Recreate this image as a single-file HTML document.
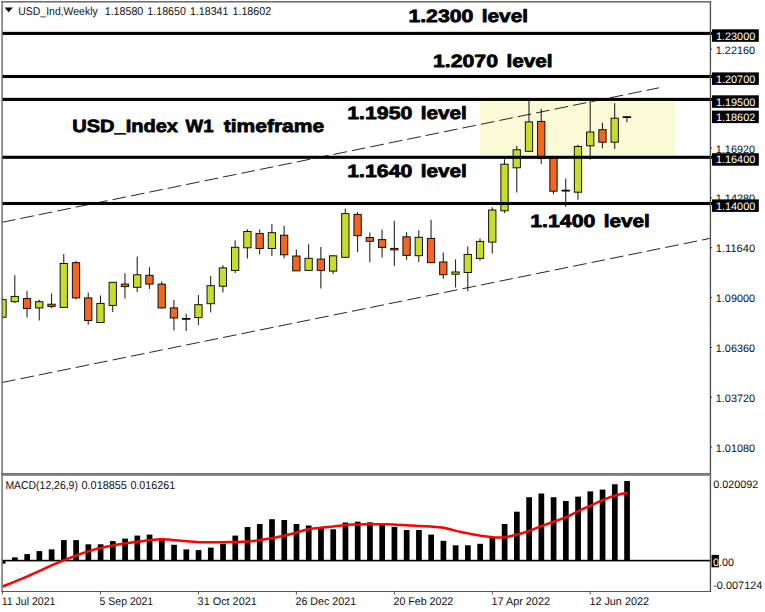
<!DOCTYPE html>
<html><head><meta charset="utf-8"><title>USD_Ind Weekly</title>
<style>html,body{margin:0;padding:0;background:#fff;width:765px;height:612px;overflow:hidden;font-family:"Liberation Sans",sans-serif}</style>
</head><body>
<svg width="765" height="612" viewBox="0 0 765 612" style="position:absolute;left:0;top:0" font-family="Liberation Sans, sans-serif" text-rendering="geometricPrecision">
<rect x="0" y="0" width="765" height="612" fill="#fff"/>
<rect x="479.7" y="100" width="195.6" height="55.3" fill="#fafad7"/>
<clipPath id="cc"><rect x="2.2" y="2" width="708" height="471"/></clipPath><g clip-path="url(#cc)">
<line x1="2.54" y1="297" x2="2.54" y2="319" stroke="#000" stroke-width="1.1" stroke-opacity="0.85"/>
<rect x="-1.11" y="299.6" width="7.3" height="17.6" fill="#c6dd2c" stroke="#0a0a00" stroke-width="0.95"/>
<line x1="14.78" y1="275.3" x2="14.78" y2="302.9" stroke="#000" stroke-width="1.1" stroke-opacity="0.85"/>
<rect x="11.13" y="296.4" width="7.3" height="5.3" fill="#c6dd2c" stroke="#0a0a00" stroke-width="0.95"/>
<line x1="27.03" y1="290.9" x2="27.03" y2="317.5" stroke="#000" stroke-width="1.1" stroke-opacity="0.85"/>
<rect x="23.38" y="298.6" width="7.3" height="9.8" fill="#f26522" stroke="#0a0a00" stroke-width="0.95"/>
<line x1="39.27" y1="299.9" x2="39.27" y2="320.5" stroke="#000" stroke-width="1.1" stroke-opacity="0.85"/>
<rect x="35.62" y="301.7" width="7.3" height="6.2" fill="#c6dd2c" stroke="#0a0a00" stroke-width="0.95"/>
<line x1="51.51" y1="293.4" x2="51.51" y2="307.9" stroke="#000" stroke-width="1.1" stroke-opacity="0.85"/>
<rect x="47.86" y="304.2" width="7.3" height="2.2" fill="#f26522" stroke="#0a0a00" stroke-width="0.95"/>
<line x1="63.76" y1="254" x2="63.76" y2="307.4" stroke="#000" stroke-width="1.1" stroke-opacity="0.85"/>
<rect x="60.11" y="263.5" width="7.3" height="43.9" fill="#c6dd2c" stroke="#0a0a00" stroke-width="0.95"/>
<line x1="76.00" y1="261" x2="76.00" y2="299.6" stroke="#000" stroke-width="1.1" stroke-opacity="0.85"/>
<rect x="72.35" y="262.7" width="7.3" height="35.2" fill="#f26522" stroke="#0a0a00" stroke-width="0.95"/>
<line x1="88.24" y1="292.4" x2="88.24" y2="324.7" stroke="#000" stroke-width="1.1" stroke-opacity="0.85"/>
<rect x="84.59" y="297.9" width="7.3" height="22.6" fill="#f26522" stroke="#0a0a00" stroke-width="0.95"/>
<line x1="100.48" y1="295.4" x2="100.48" y2="323" stroke="#000" stroke-width="1.1" stroke-opacity="0.85"/>
<rect x="96.83" y="303.4" width="7.3" height="19.1" fill="#c6dd2c" stroke="#0a0a00" stroke-width="0.95"/>
<line x1="112.73" y1="282.3" x2="112.73" y2="312" stroke="#000" stroke-width="1.1" stroke-opacity="0.85"/>
<rect x="109.08" y="282.3" width="7.3" height="23.1" fill="#c6dd2c" stroke="#0a0a00" stroke-width="0.95"/>
<line x1="124.97" y1="273.3" x2="124.97" y2="298.4" stroke="#000" stroke-width="1.1" stroke-opacity="0.85"/>
<rect x="121.32" y="284.1" width="7.3" height="2.5" fill="#f26522" stroke="#0a0a00" stroke-width="0.95"/>
<line x1="137.21" y1="256.5" x2="137.21" y2="292.1" stroke="#000" stroke-width="1.1" stroke-opacity="0.85"/>
<rect x="133.56" y="274.8" width="7.3" height="12.5" fill="#c6dd2c" stroke="#0a0a00" stroke-width="0.95"/>
<line x1="149.46" y1="267.3" x2="149.46" y2="289.1" stroke="#000" stroke-width="1.1" stroke-opacity="0.85"/>
<rect x="145.81" y="275.3" width="7.3" height="8.8" fill="#f26522" stroke="#0a0a00" stroke-width="0.95"/>
<line x1="161.70" y1="281.6" x2="161.70" y2="308.4" stroke="#000" stroke-width="1.1" stroke-opacity="0.85"/>
<rect x="158.05" y="284.1" width="7.3" height="23.8" fill="#f26522" stroke="#0a0a00" stroke-width="0.95"/>
<line x1="173.94" y1="299.9" x2="173.94" y2="330.5" stroke="#000" stroke-width="1.1" stroke-opacity="0.85"/>
<rect x="170.29" y="307.9" width="7.3" height="10.1" fill="#f26522" stroke="#0a0a00" stroke-width="0.95"/>
<line x1="186.19" y1="313.8" x2="186.19" y2="331" stroke="#000" stroke-width="1.1" stroke-opacity="0.85"/>
<line x1="181.99" y1="318.8" x2="190.38" y2="318.8" stroke="#000" stroke-width="1.7"/>
<line x1="198.43" y1="295" x2="198.43" y2="325.1" stroke="#000" stroke-width="1.1" stroke-opacity="0.85"/>
<rect x="194.78" y="304.7" width="7.3" height="12.9" fill="#c6dd2c" stroke="#0a0a00" stroke-width="0.95"/>
<line x1="210.67" y1="276.1" x2="210.67" y2="312.5" stroke="#000" stroke-width="1.1" stroke-opacity="0.85"/>
<rect x="207.02" y="285.7" width="7.3" height="18.0" fill="#c6dd2c" stroke="#0a0a00" stroke-width="0.95"/>
<line x1="222.91" y1="265.3" x2="222.91" y2="292.4" stroke="#000" stroke-width="1.1" stroke-opacity="0.85"/>
<rect x="219.26" y="267.9" width="7.3" height="18.3" fill="#c6dd2c" stroke="#0a0a00" stroke-width="0.95"/>
<line x1="235.16" y1="240.2" x2="235.16" y2="272.9" stroke="#000" stroke-width="1.1" stroke-opacity="0.85"/>
<rect x="231.51" y="247.3" width="7.3" height="23.1" fill="#c6dd2c" stroke="#0a0a00" stroke-width="0.95"/>
<line x1="247.40" y1="229.2" x2="247.40" y2="258.6" stroke="#000" stroke-width="1.1" stroke-opacity="0.85"/>
<rect x="243.75" y="231.5" width="7.3" height="16.3" fill="#c6dd2c" stroke="#0a0a00" stroke-width="0.95"/>
<line x1="259.64" y1="229.4" x2="259.64" y2="254.5" stroke="#000" stroke-width="1.1" stroke-opacity="0.85"/>
<rect x="255.99" y="233.5" width="7.3" height="15.0" fill="#f26522" stroke="#0a0a00" stroke-width="0.95"/>
<line x1="271.89" y1="223.9" x2="271.89" y2="256" stroke="#000" stroke-width="1.1" stroke-opacity="0.85"/>
<rect x="268.24" y="232.7" width="7.3" height="15.8" fill="#c6dd2c" stroke="#0a0a00" stroke-width="0.95"/>
<line x1="284.13" y1="225.7" x2="284.13" y2="258.3" stroke="#000" stroke-width="1.1" stroke-opacity="0.85"/>
<rect x="280.48" y="235.2" width="7.3" height="19.6" fill="#f26522" stroke="#0a0a00" stroke-width="0.95"/>
<line x1="296.37" y1="249.5" x2="296.37" y2="270.9" stroke="#000" stroke-width="1.1" stroke-opacity="0.85"/>
<rect x="292.72" y="256" width="7.3" height="14.9" fill="#f26522" stroke="#0a0a00" stroke-width="0.95"/>
<line x1="308.62" y1="244.3" x2="308.62" y2="270.9" stroke="#000" stroke-width="1.1" stroke-opacity="0.85"/>
<rect x="304.97" y="258.3" width="7.3" height="12.1" fill="#c6dd2c" stroke="#0a0a00" stroke-width="0.95"/>
<line x1="320.86" y1="247" x2="320.86" y2="288.4" stroke="#000" stroke-width="1.1" stroke-opacity="0.85"/>
<rect x="317.21" y="259.1" width="7.3" height="11.3" fill="#f26522" stroke="#0a0a00" stroke-width="0.95"/>
<line x1="333.10" y1="255.3" x2="333.10" y2="274.1" stroke="#000" stroke-width="1.1" stroke-opacity="0.85"/>
<rect x="329.45" y="255.8" width="7.3" height="15.3" fill="#c6dd2c" stroke="#0a0a00" stroke-width="0.95"/>
<line x1="345.34" y1="208.4" x2="345.34" y2="258.3" stroke="#000" stroke-width="1.1" stroke-opacity="0.85"/>
<rect x="341.69" y="213.6" width="7.3" height="43.7" fill="#c6dd2c" stroke="#0a0a00" stroke-width="0.95"/>
<line x1="357.59" y1="212.1" x2="357.59" y2="252.3" stroke="#000" stroke-width="1.1" stroke-opacity="0.85"/>
<rect x="353.94" y="214.4" width="7.3" height="21.3" fill="#f26522" stroke="#0a0a00" stroke-width="0.95"/>
<line x1="369.83" y1="232.5" x2="369.83" y2="262.2" stroke="#000" stroke-width="1.1" stroke-opacity="0.85"/>
<rect x="366.18" y="237.5" width="7.3" height="3.8" fill="#f26522" stroke="#0a0a00" stroke-width="0.95"/>
<line x1="382.07" y1="229.6" x2="382.07" y2="257.4" stroke="#000" stroke-width="1.1" stroke-opacity="0.85"/>
<rect x="378.42" y="239.6" width="7.3" height="7.8" fill="#f26522" stroke="#0a0a00" stroke-width="0.95"/>
<line x1="394.32" y1="220.8" x2="394.32" y2="266" stroke="#000" stroke-width="1.1" stroke-opacity="0.85"/>
<rect x="390.67" y="248.4" width="7.3" height="1.5" fill="#f26522" stroke="#0a0a00" stroke-width="0.95"/>
<line x1="406.56" y1="232.3" x2="406.56" y2="259.7" stroke="#000" stroke-width="1.1" stroke-opacity="0.85"/>
<rect x="402.91" y="236.8" width="7.3" height="18.6" fill="#f26522" stroke="#0a0a00" stroke-width="0.95"/>
<line x1="418.80" y1="230.3" x2="418.80" y2="262" stroke="#000" stroke-width="1.1" stroke-opacity="0.85"/>
<rect x="415.15" y="237.3" width="7.3" height="18.4" fill="#c6dd2c" stroke="#0a0a00" stroke-width="0.95"/>
<line x1="431.05" y1="219.8" x2="431.05" y2="263" stroke="#000" stroke-width="1.1" stroke-opacity="0.85"/>
<rect x="427.40" y="238.4" width="7.3" height="24.3" fill="#f26522" stroke="#0a0a00" stroke-width="0.95"/>
<line x1="443.29" y1="252.4" x2="443.29" y2="278.8" stroke="#000" stroke-width="1.1" stroke-opacity="0.85"/>
<rect x="439.64" y="262" width="7.3" height="12.7" fill="#f26522" stroke="#0a0a00" stroke-width="0.95"/>
<line x1="455.53" y1="259.4" x2="455.53" y2="287.5" stroke="#000" stroke-width="1.1" stroke-opacity="0.85"/>
<rect x="451.88" y="272" width="7.3" height="2.2" fill="#c6dd2c" stroke="#0a0a00" stroke-width="0.95"/>
<line x1="467.77" y1="246.4" x2="467.77" y2="291.1" stroke="#000" stroke-width="1.1" stroke-opacity="0.85"/>
<rect x="464.12" y="254.4" width="7.3" height="18.1" fill="#c6dd2c" stroke="#0a0a00" stroke-width="0.95"/>
<line x1="480.02" y1="238.4" x2="480.02" y2="260.4" stroke="#000" stroke-width="1.1" stroke-opacity="0.85"/>
<rect x="476.37" y="241.4" width="7.3" height="17.0" fill="#c6dd2c" stroke="#0a0a00" stroke-width="0.95"/>
<line x1="492.26" y1="207.2" x2="492.26" y2="253.4" stroke="#000" stroke-width="1.1" stroke-opacity="0.85"/>
<rect x="488.61" y="210" width="7.3" height="32.1" fill="#c6dd2c" stroke="#0a0a00" stroke-width="0.95"/>
<line x1="504.50" y1="159.3" x2="504.50" y2="213" stroke="#000" stroke-width="1.1" stroke-opacity="0.85"/>
<rect x="500.85" y="164.2" width="7.3" height="46.6" fill="#c6dd2c" stroke="#0a0a00" stroke-width="0.95"/>
<line x1="516.75" y1="146" x2="516.75" y2="192.4" stroke="#000" stroke-width="1.1" stroke-opacity="0.85"/>
<rect x="513.10" y="149.8" width="7.3" height="18.0" fill="#c6dd2c" stroke="#0a0a00" stroke-width="0.95"/>
<line x1="528.99" y1="100.6" x2="528.99" y2="152" stroke="#000" stroke-width="1.1" stroke-opacity="0.85"/>
<rect x="525.34" y="121.9" width="7.3" height="29.4" fill="#c6dd2c" stroke="#0a0a00" stroke-width="0.95"/>
<line x1="541.23" y1="108.9" x2="541.23" y2="164.1" stroke="#000" stroke-width="1.1" stroke-opacity="0.85"/>
<rect x="537.58" y="121.4" width="7.3" height="37.1" fill="#f26522" stroke="#0a0a00" stroke-width="0.95"/>
<line x1="553.48" y1="158.5" x2="553.48" y2="194.2" stroke="#000" stroke-width="1.1" stroke-opacity="0.85"/>
<rect x="549.83" y="158.5" width="7.3" height="32.7" fill="#f26522" stroke="#0a0a00" stroke-width="0.95"/>
<line x1="565.72" y1="178.4" x2="565.72" y2="206.8" stroke="#000" stroke-width="1.1" stroke-opacity="0.85"/>
<line x1="561.52" y1="190.7" x2="569.92" y2="190.7" stroke="#000" stroke-width="1.7"/>
<line x1="577.96" y1="144.8" x2="577.96" y2="199.7" stroke="#000" stroke-width="1.1" stroke-opacity="0.85"/>
<rect x="574.31" y="146.5" width="7.3" height="45.7" fill="#c6dd2c" stroke="#0a0a00" stroke-width="0.95"/>
<line x1="590.20" y1="100.6" x2="590.20" y2="159.6" stroke="#000" stroke-width="1.1" stroke-opacity="0.85"/>
<rect x="586.55" y="132" width="7.3" height="13.8" fill="#c6dd2c" stroke="#0a0a00" stroke-width="0.95"/>
<line x1="602.45" y1="122.7" x2="602.45" y2="148.3" stroke="#000" stroke-width="1.1" stroke-opacity="0.85"/>
<rect x="598.80" y="129.7" width="7.3" height="12.5" fill="#f26522" stroke="#0a0a00" stroke-width="0.95"/>
<line x1="614.69" y1="103.3" x2="614.69" y2="149" stroke="#000" stroke-width="1.1" stroke-opacity="0.85"/>
<rect x="611.04" y="118.2" width="7.3" height="24.0" fill="#c6dd2c" stroke="#0a0a00" stroke-width="0.95"/>
<line x1="626.93" y1="116.0" x2="626.93" y2="122.2" stroke="#000" stroke-width="1.1" stroke-opacity="0.85"/>
<line x1="622.73" y1="117.1" x2="631.13" y2="117.1" stroke="#000" stroke-width="1.7"/>
</g>
<g stroke="#000" stroke-width="1" stroke-dasharray="13.7 5.1" stroke-opacity="0.85" fill="none">
<line x1="2" y1="222.3" x2="659" y2="87.8"/>
<line x1="2" y1="382.5" x2="710" y2="238.4"/>
</g>
<rect x="2" y="31.85" width="710" height="3.1" fill="#000"/>
<rect x="2" y="74.95" width="710" height="3.1" fill="#000"/>
<rect x="2" y="97.85" width="710" height="3.1" fill="#000"/>
<rect x="2" y="155.75" width="710" height="3.1" fill="#000"/>
<rect x="2" y="201.95" width="710" height="3.1" fill="#000"/>
<rect x="2.10" y="560.6" width="3.41" height="3.1" fill="#000"/>
<rect x="12.05" y="557.4" width="5.70" height="3.2" fill="#000"/>
<rect x="24.30" y="554.1" width="5.70" height="6.5" fill="#000"/>
<rect x="36.54" y="551.1" width="5.70" height="9.5" fill="#000"/>
<rect x="48.78" y="549.4" width="5.70" height="11.2" fill="#000"/>
<rect x="61.02" y="540.1" width="5.70" height="20.5" fill="#000"/>
<rect x="73.27" y="540.1" width="5.70" height="20.5" fill="#000"/>
<rect x="85.51" y="544.3" width="5.70" height="16.3" fill="#000"/>
<rect x="97.75" y="544.3" width="5.70" height="16.3" fill="#000"/>
<rect x="110.00" y="541.1" width="5.70" height="19.5" fill="#000"/>
<rect x="122.24" y="538.6" width="5.70" height="22.0" fill="#000"/>
<rect x="134.48" y="535.6" width="5.70" height="25.0" fill="#000"/>
<rect x="146.73" y="534.6" width="5.70" height="26.0" fill="#000"/>
<rect x="158.97" y="538.8" width="5.70" height="21.8" fill="#000"/>
<rect x="171.21" y="544.8" width="5.70" height="15.8" fill="#000"/>
<rect x="183.46" y="549.4" width="5.70" height="11.2" fill="#000"/>
<rect x="195.70" y="550.1" width="5.70" height="10.5" fill="#000"/>
<rect x="207.94" y="547.6" width="5.70" height="13.0" fill="#000"/>
<rect x="220.18" y="543.8" width="5.70" height="16.8" fill="#000"/>
<rect x="232.43" y="535.6" width="5.70" height="25.0" fill="#000"/>
<rect x="244.67" y="527.0" width="5.70" height="33.6" fill="#000"/>
<rect x="256.91" y="524.0" width="5.70" height="36.6" fill="#000"/>
<rect x="269.16" y="519.2" width="5.70" height="41.4" fill="#000"/>
<rect x="281.40" y="520.0" width="5.70" height="40.6" fill="#000"/>
<rect x="293.64" y="524.0" width="5.70" height="36.6" fill="#000"/>
<rect x="305.88" y="525.5" width="5.70" height="35.1" fill="#000"/>
<rect x="318.13" y="527.3" width="5.70" height="33.3" fill="#000"/>
<rect x="330.37" y="529.3" width="5.70" height="31.3" fill="#000"/>
<rect x="342.61" y="522.5" width="5.70" height="38.1" fill="#000"/>
<rect x="354.86" y="521.7" width="5.70" height="38.9" fill="#000"/>
<rect x="367.10" y="522.3" width="5.70" height="38.3" fill="#000"/>
<rect x="379.34" y="524.8" width="5.70" height="35.8" fill="#000"/>
<rect x="391.59" y="526.8" width="5.70" height="33.8" fill="#000"/>
<rect x="403.83" y="530.0" width="5.70" height="30.6" fill="#000"/>
<rect x="416.07" y="530.0" width="5.70" height="30.6" fill="#000"/>
<rect x="428.31" y="534.6" width="5.70" height="26.0" fill="#000"/>
<rect x="440.56" y="540.8" width="5.70" height="19.8" fill="#000"/>
<rect x="452.80" y="545.3" width="5.70" height="15.3" fill="#000"/>
<rect x="465.04" y="545.3" width="5.70" height="15.3" fill="#000"/>
<rect x="477.29" y="543.8" width="5.70" height="16.8" fill="#000"/>
<rect x="489.53" y="536.8" width="5.70" height="23.8" fill="#000"/>
<rect x="501.77" y="524.0" width="5.70" height="36.6" fill="#000"/>
<rect x="514.02" y="511.7" width="5.70" height="48.9" fill="#000"/>
<rect x="526.26" y="497.2" width="5.70" height="63.4" fill="#000"/>
<rect x="538.50" y="493.5" width="5.70" height="67.1" fill="#000"/>
<rect x="550.75" y="497.2" width="5.70" height="63.4" fill="#000"/>
<rect x="562.99" y="501.0" width="5.70" height="59.6" fill="#000"/>
<rect x="575.23" y="496.6" width="5.70" height="64.0" fill="#000"/>
<rect x="587.47" y="491.4" width="5.70" height="69.2" fill="#000"/>
<rect x="599.72" y="489.6" width="5.70" height="71.0" fill="#000"/>
<rect x="611.96" y="484.3" width="5.70" height="76.3" fill="#000"/>
<rect x="624.20" y="481.0" width="5.70" height="79.6" fill="#000"/>
<rect x="2" y="559.8000000000001" width="709" height="1.6" fill="#000"/>
<polyline points="2.6,586.56 4.0,586.00 7.0,584.78 10.0,583.56 13.0,582.33 16.0,581.09 19.0,579.85 22.0,578.59 25.0,577.33 28.0,576.05 31.0,574.77 34.0,573.45 37.0,572.09 40.0,570.72 43.0,569.33 46.0,567.93 49.0,566.55 52.0,565.20 55.0,563.87 58.0,562.59 61.0,561.37 64.0,560.20 67.0,559.04 70.0,557.88 73.0,556.74 76.0,555.61 79.0,554.50 82.0,553.43 85.0,552.40 88.0,551.42 91.0,550.49 94.0,549.62 97.0,548.82 100.0,548.10 103.0,547.44 106.0,546.80 109.0,546.20 112.0,545.63 115.0,545.08 118.0,544.56 121.0,544.07 124.0,543.59 127.0,543.15 130.0,542.72 133.0,542.31 136.0,541.92 139.0,541.54 142.0,541.14 145.0,540.74 148.0,540.35 151.0,539.99 154.0,539.69 157.0,539.46 160.0,539.33 163.0,539.31 166.0,539.42 169.0,539.62 172.0,539.88 175.0,540.17 178.0,540.44 181.0,540.67 184.0,540.91 187.0,541.18 190.0,541.45 193.0,541.71 196.0,541.94 199.0,542.13 202.0,542.25 205.0,542.30 208.0,542.30 211.0,542.29 214.0,542.27 217.0,542.25 220.0,542.22 223.0,542.18 226.0,542.14 229.0,542.09 232.0,542.04 235.0,541.98 238.0,541.92 241.0,541.85 244.0,541.77 247.0,541.61 250.0,541.35 253.0,541.02 256.0,540.63 259.0,540.20 262.0,539.74 265.0,539.27 268.0,538.80 271.0,538.31 274.0,537.77 277.0,537.18 280.0,536.54 283.0,535.88 286.0,535.18 289.0,534.47 292.0,533.74 295.0,532.97 298.0,532.05 301.0,531.10 304.0,530.20 307.0,529.48 310.0,528.98 313.0,528.56 316.0,528.20 319.0,527.87 322.0,527.57 325.0,527.29 328.0,527.00 331.0,526.70 334.0,526.37 337.0,526.02 340.0,525.67 343.0,525.34 346.0,525.04 349.0,524.79 352.0,524.61 355.0,524.50 358.0,524.44 361.0,524.39 364.0,524.35 367.0,524.32 370.0,524.30 373.0,524.30 376.0,524.30 379.0,524.30 382.0,524.30 385.0,524.30 388.0,524.33 391.0,524.42 394.0,524.54 397.0,524.70 400.0,524.89 403.0,525.08 406.0,525.27 409.0,525.45 412.0,525.60 415.0,525.75 418.0,525.89 421.0,526.03 424.0,526.18 427.0,526.34 430.0,526.51 433.0,526.71 436.0,526.94 439.0,527.20 442.0,527.55 445.0,528.09 448.0,528.78 451.0,529.56 454.0,530.36 457.0,531.13 460.0,531.80 463.0,532.41 466.0,533.02 469.0,533.63 472.0,534.23 475.0,534.79 478.0,535.31 481.0,535.78 484.0,536.18 487.0,536.53 490.0,536.89 493.0,537.21 496.0,537.46 499.0,537.59 502.0,537.53 505.0,537.21 508.0,536.69 511.0,536.02 514.0,535.28 517.0,534.54 520.0,533.80 523.0,532.93 526.0,531.97 529.0,530.95 532.0,529.87 535.0,528.69 538.0,527.46 541.0,526.28 544.0,525.17 547.0,524.11 550.0,523.05 553.0,521.98 556.0,520.91 559.0,519.85 562.0,518.76 565.0,517.59 568.0,516.27 571.0,514.78 574.0,513.24 577.0,511.73 580.0,510.33 583.0,508.98 586.0,507.66 589.0,506.34 592.0,504.98 595.0,503.60 598.0,502.22 601.0,500.89 604.0,499.63 607.0,498.37 610.0,497.17 613.0,496.11 616.0,495.25 619.0,494.48 622.0,493.80 625.0,493.23 627.2,492.90" fill="none" stroke="#f00" stroke-width="2.5" stroke-linejoin="round" stroke-linecap="butt"/>
<g fill="#686868">
<rect x="1.4" y="1.05" width="709.7" height="1.5"/>
<rect x="1.4" y="0.9" width="1.4" height="591"/>
<rect x="709.75" y="1.05" width="1.35" height="590.8" fill="#505050"/>
<rect x="1.4" y="473.1" width="709.7" height="1.6" fill="#5e5e5e"/>
<rect x="1.4" y="474.7" width="709.7" height="1.2" fill="#808080"/>
</g>
<rect x="1.4" y="591" width="709.7" height="0.9" fill="#444"/>
<rect x="2.10" y="591" width="0.9" height="3.5" fill="#444"/>
<rect x="100.04" y="591" width="0.9" height="3.5" fill="#444"/>
<rect x="197.99" y="591" width="0.9" height="3.5" fill="#444"/>
<rect x="295.93" y="591" width="0.9" height="3.5" fill="#444"/>
<rect x="393.88" y="591" width="0.9" height="3.5" fill="#444"/>
<rect x="491.82" y="591" width="0.9" height="3.5" fill="#444"/>
<rect x="589.76" y="591" width="0.9" height="3.5" fill="#444"/>
<rect x="710.5" y="48.71" width="1.6" height="0.9" fill="#333"/>
<rect x="710.5" y="147.60" width="1.6" height="0.9" fill="#333"/>
<rect x="710.5" y="197.43" width="1.6" height="0.9" fill="#333"/>
<rect x="710.5" y="247.25" width="1.6" height="0.9" fill="#333"/>
<rect x="710.5" y="297.08" width="1.6" height="0.9" fill="#333"/>
<rect x="710.5" y="346.90" width="1.6" height="0.9" fill="#333"/>
<rect x="710.5" y="396.73" width="1.6" height="0.9" fill="#333"/>
<rect x="710.5" y="446.55" width="1.6" height="0.9" fill="#333"/>
<text x="715.8" y="53.76" textLength="39.3" lengthAdjust="spacingAndGlyphs" font-size="10.8" fill="#111" font-weight="normal" >1.22160</text>
<text x="715.8" y="152.65452" textLength="39.3" lengthAdjust="spacingAndGlyphs" font-size="10.8" fill="#111" font-weight="normal" >1.16920</text>
<text x="715.8" y="202.47923999999995" textLength="39.3" lengthAdjust="spacingAndGlyphs" font-size="10.8" fill="#111" font-weight="normal" >1.14280</text>
<text x="715.8" y="252.3039599999999" textLength="39.3" lengthAdjust="spacingAndGlyphs" font-size="10.8" fill="#111" font-weight="normal" >1.11640</text>
<text x="715.8" y="302.1286799999999" textLength="39.3" lengthAdjust="spacingAndGlyphs" font-size="10.8" fill="#111" font-weight="normal" >1.09000</text>
<text x="715.8" y="351.9533999999999" textLength="39.3" lengthAdjust="spacingAndGlyphs" font-size="10.8" fill="#111" font-weight="normal" >1.06360</text>
<text x="715.8" y="401.7781200000003" textLength="39.3" lengthAdjust="spacingAndGlyphs" font-size="10.8" fill="#111" font-weight="normal" >1.03720</text>
<text x="715.8" y="451.60284000000024" textLength="39.3" lengthAdjust="spacingAndGlyphs" font-size="10.8" fill="#111" font-weight="normal" >1.01080</text>
<rect x="712" y="29.3" width="46.8" height="12.5" fill="#000"/>
<text x="715.9" y="39.5" textLength="39.4" lengthAdjust="spacingAndGlyphs" font-size="10.8" fill="#fff" font-weight="normal" >1.23000</text>
<rect x="712" y="72.4" width="46.8" height="12.5" fill="#000"/>
<text x="715.9" y="82.6" textLength="39.4" lengthAdjust="spacingAndGlyphs" font-size="10.8" fill="#fff" font-weight="normal" >1.20700</text>
<rect x="712" y="95.3" width="46.8" height="12.5" fill="#000"/>
<text x="715.9" y="105.5" textLength="39.4" lengthAdjust="spacingAndGlyphs" font-size="10.8" fill="#fff" font-weight="normal" >1.19500</text>
<rect x="712" y="110.6" width="46.8" height="12.5" fill="#000"/>
<text x="715.9" y="120.8" textLength="39.4" lengthAdjust="spacingAndGlyphs" font-size="10.8" fill="#fff" font-weight="normal" >1.18602</text>
<rect x="712" y="153.2" width="46.8" height="12.5" fill="#000"/>
<text x="715.9" y="163.4" textLength="39.4" lengthAdjust="spacingAndGlyphs" font-size="10.8" fill="#fff" font-weight="normal" >1.16400</text>
<rect x="712" y="199.4" width="46.8" height="12.5" fill="#000"/>
<text x="715.9" y="209.6" textLength="39.4" lengthAdjust="spacingAndGlyphs" font-size="10.8" fill="#fff" font-weight="normal" >1.14000</text>
<text x="713.2" y="487.8" textLength="45.2" lengthAdjust="spacingAndGlyphs" font-size="10.8" fill="#111" font-weight="normal" >0.020092</text>
<text x="713.2" y="588.6" textLength="49.2" lengthAdjust="spacingAndGlyphs" font-size="10.8" fill="#111" font-weight="normal" >-0.007124</text>
<rect x="711.6" y="554.9" width="7.3" height="12.4" fill="#000"/>
<text x="713" y="566.0" textLength="21" lengthAdjust="spacingAndGlyphs" font-size="10.8" fill="#111" font-weight="normal" >0.00</text>
<text x="713" y="566.0" textLength="21" lengthAdjust="spacingAndGlyphs" font-size="10.8" fill="#fff" font-weight="normal" clip-path="url(#cz)">0.00</text>
<clipPath id="cz"><rect x="711.6" y="554.9" width="7.3" height="12.4"/></clipPath>
<text x="1.7" y="605.0" textLength="53.8" lengthAdjust="spacingAndGlyphs" font-size="11.0" fill="#111" font-weight="normal" >11 Jul 2021</text>
<text x="99.6" y="605.0" textLength="53.6" lengthAdjust="spacingAndGlyphs" font-size="11.0" fill="#111" font-weight="normal" >5 Sep 2021</text>
<text x="197.6" y="605.0" textLength="59.2" lengthAdjust="spacingAndGlyphs" font-size="11.0" fill="#111" font-weight="normal" >31 Oct 2021</text>
<text x="295.5" y="605.0" textLength="60.6" lengthAdjust="spacingAndGlyphs" font-size="11.0" fill="#111" font-weight="normal" >26 Dec 2021</text>
<text x="393.5" y="605.0" textLength="59.8" lengthAdjust="spacingAndGlyphs" font-size="11.0" fill="#111" font-weight="normal" >20 Feb 2022</text>
<text x="491.4" y="605.0" textLength="58.6" lengthAdjust="spacingAndGlyphs" font-size="11.0" fill="#111" font-weight="normal" >17 Apr 2022</text>
<text x="589.4" y="605.0" textLength="59.6" lengthAdjust="spacingAndGlyphs" font-size="11.0" fill="#111" font-weight="normal" >12 Jun 2022</text>
<path d="M4.6 7.4 L12.9 7.4 L8.75 12.2 Z" fill="#000"/>
<text x="18.3" y="14.8" textLength="79.4" lengthAdjust="spacingAndGlyphs" font-size="11.4" fill="#111" font-weight="normal" >USD_Ind,Weekly</text>
<text x="104.7" y="14.8" textLength="38.6" lengthAdjust="spacingAndGlyphs" font-size="11.4" fill="#111" font-weight="normal" >1.18580</text>
<text x="147.3" y="14.8" textLength="38.6" lengthAdjust="spacingAndGlyphs" font-size="11.4" fill="#111" font-weight="normal" >1.18650</text>
<text x="189.9" y="14.8" textLength="38.6" lengthAdjust="spacingAndGlyphs" font-size="11.4" fill="#111" font-weight="normal" >1.18341</text>
<text x="232.5" y="14.8" textLength="38.6" lengthAdjust="spacingAndGlyphs" font-size="11.4" fill="#111" font-weight="normal" >1.18602</text>
<text x="5.4" y="489.1" textLength="72.5" lengthAdjust="spacingAndGlyphs" font-size="11.4" fill="#111" font-weight="normal" >MACD(12,26,9)</text>
<text x="81.5" y="489.1" textLength="45.4" lengthAdjust="spacingAndGlyphs" font-size="11.4" fill="#111" font-weight="normal" >0.018855</text>
<text x="130.4" y="489.1" textLength="44.7" lengthAdjust="spacingAndGlyphs" font-size="11.4" fill="#111" font-weight="normal" >0.016261</text>
<text x="408.4" y="22" textLength="65.0" lengthAdjust="spacingAndGlyphs" font-size="17.8" font-weight="bold" fill="#000" stroke="#000" stroke-width="0.75" stroke-linejoin="round">1.2300</text>
<text x="481.79999999999995" y="22" textLength="46.2" lengthAdjust="spacingAndGlyphs" font-size="17.8" font-weight="bold" fill="#000" stroke="#000" stroke-width="0.75" stroke-linejoin="round">level</text>
<text x="433.0" y="67.1" textLength="65.0" lengthAdjust="spacingAndGlyphs" font-size="17.8" font-weight="bold" fill="#000" stroke="#000" stroke-width="0.75" stroke-linejoin="round">1.2070</text>
<text x="506.4" y="67.1" textLength="46.2" lengthAdjust="spacingAndGlyphs" font-size="17.8" font-weight="bold" fill="#000" stroke="#000" stroke-width="0.75" stroke-linejoin="round">level</text>
<text x="347.3" y="118.8" textLength="65.0" lengthAdjust="spacingAndGlyphs" font-size="17.8" font-weight="bold" fill="#000" stroke="#000" stroke-width="0.75" stroke-linejoin="round">1.1950</text>
<text x="420.70000000000005" y="118.8" textLength="46.2" lengthAdjust="spacingAndGlyphs" font-size="17.8" font-weight="bold" fill="#000" stroke="#000" stroke-width="0.75" stroke-linejoin="round">level</text>
<text x="347.3" y="176.9" textLength="65.0" lengthAdjust="spacingAndGlyphs" font-size="17.8" font-weight="bold" fill="#000" stroke="#000" stroke-width="0.75" stroke-linejoin="round">1.1640</text>
<text x="420.70000000000005" y="176.9" textLength="46.2" lengthAdjust="spacingAndGlyphs" font-size="17.8" font-weight="bold" fill="#000" stroke="#000" stroke-width="0.75" stroke-linejoin="round">level</text>
<text x="530.3" y="227.3" textLength="65.0" lengthAdjust="spacingAndGlyphs" font-size="17.8" font-weight="bold" fill="#000" stroke="#000" stroke-width="0.75" stroke-linejoin="round">1.1400</text>
<text x="603.6999999999999" y="227.3" textLength="46.2" lengthAdjust="spacingAndGlyphs" font-size="17.8" font-weight="bold" fill="#000" stroke="#000" stroke-width="0.75" stroke-linejoin="round">level</text>
<text x="72.2" y="132" textLength="105.8" lengthAdjust="spacingAndGlyphs" font-size="17.8" font-weight="bold" fill="#000" stroke="#000" stroke-width="0.75" stroke-linejoin="round">USD_Index</text>
<text x="185.6" y="132" textLength="28.0" lengthAdjust="spacingAndGlyphs" font-size="17.8" font-weight="bold" fill="#000" stroke="#000" stroke-width="0.75" stroke-linejoin="round">W1</text>
<text x="223.7" y="132" textLength="100.5" lengthAdjust="spacingAndGlyphs" font-size="17.8" font-weight="bold" fill="#000" stroke="#000" stroke-width="0.75" stroke-linejoin="round">timeframe</text>
</svg>
</body></html>
